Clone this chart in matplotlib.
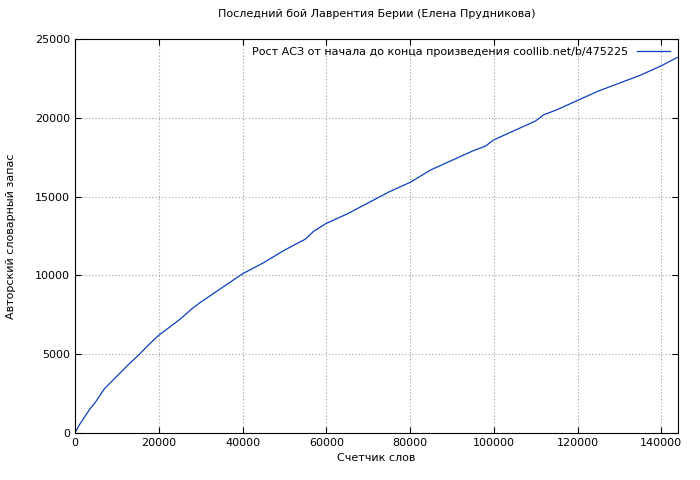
import matplotlib
matplotlib.use('Agg')
import matplotlib.pyplot as plt

# Данные
words = [0, 1000, 2000, 3500, 5000, 7000, 10000, 13000, 15000, 18000, 20000, 23000, 25000,
         28000, 30000, 35000, 40000, 45000, 50000, 55000, 57000, 60000, 65000, 70000,
         75000, 80000, 85000, 90000, 95000, 98000, 100000, 105000, 110000, 112000, 115000,
         120000, 125000, 130000, 135000, 140000, 144000]
vocab = [0, 500, 900, 1500, 2000, 2800, 3600, 4400, 4900, 5700, 6200, 6800, 7200,
         7900, 8300, 9200, 10100, 10800, 11600, 12300, 12800, 13300, 13900, 14600,
         15300, 15900, 16700, 17300, 17900, 18200, 18600, 19200, 19800, 20200, 20500,
         21100, 21700, 22200, 22700, 23300, 23850]

title = "Последний бой Лаврентия Берии (Елена Прудникова)"
legend_label = "Рост АСЗ от начала до конца произведения coollib.net/b/475225"

plt.rcParams['font.family'] = ['DejaVu Sans']
fig = plt.figure(figsize=(7, 4.8), dpi=100)
ax = fig.add_axes([75/700, 1 - 433/480, 603/700, 394/480])

ax.plot(words, vocab, color='#0a3fbf', linewidth=0.9, label=legend_label)
ax.set_xlim(0, 144000)
ax.set_ylim(0, 25000)
ax.set_xticks(range(0, 144001, 20000))
ax.set_yticks(range(0, 25001, 5000))
ax.tick_params(labelsize=8, direction='in', length=4, top=True, right=True)
ax.grid(True, color='#a0a0a0', linestyle=(0, (1, 2)), linewidth=0.8)

ax.set_title(title, fontsize=8, pad=16)
ax.set_xlabel("Счетчик слов", fontsize=8)
ax.set_ylabel("Авторский словарный запас", fontsize=8, labelpad=14)

leg = ax.legend(loc='upper right', fontsize=8, frameon=False, markerfirst=False,
                handlelength=3, borderaxespad=0.3)

fig.savefig('out.png', dpi=100)
